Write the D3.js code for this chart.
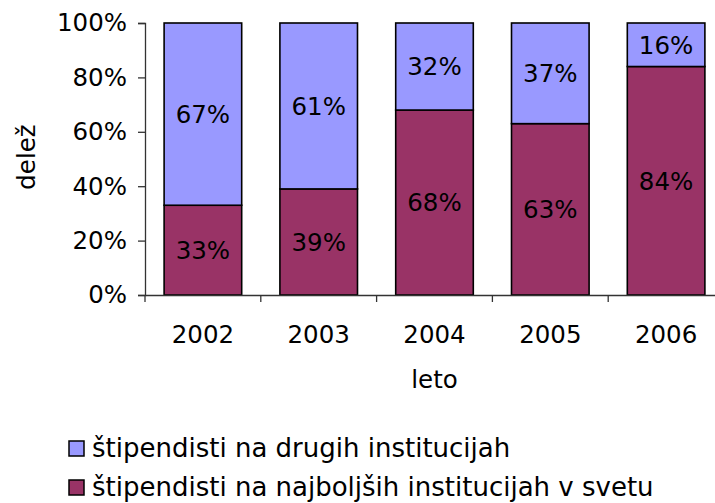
<!DOCTYPE html>
<html>
<head>
<meta charset="utf-8">
<script src="https://cdn.jsdelivr.net/npm/d3@7"></script>
<style>
  body { margin: 0; background: #fff; }
  text { font-family: "DejaVu Sans", Verdana, sans-serif; fill: #000; }
</style>
</head>
<body>
<svg id="chart" width="715" height="503"></svg>
<script>
var years = ["2002", "2003", "2004", "2005", "2006"];
var najboljse = [33, 39, 68, 63, 84];   // štipendisti na najboljših institucijah v svetu
var druge = [67, 61, 32, 37, 16];       // štipendisti na drugih institucijah
var yTicks = [0, 20, 40, 60, 80, 100];

var svg = d3.select("#chart"),
    margin = {top: 23, left: 145},
    width = 579,
    height = 272,
    fs = "24.5px";

var x = d3.scaleBand().domain(years).range([0, width]).paddingInner(0.33).paddingOuter(0.165),
    y = d3.scaleLinear().domain([0, 100]).range([height, 0]);

var g = svg.append("g")
    .attr("transform", "translate(" + margin.left + "," + margin.top + ")");

var rows = years.map(function(yr, i) {
  return {year: yr, bottom: najboljse[i], top: druge[i]};
});

// spodnji del (najboljše institucije)
g.selectAll(".bar-bottom")
  .data(rows)
  .enter().append("rect")
    .attr("class", "bar-bottom")
    .attr("x", function(d) { return x(d.year); })
    .attr("y", function(d) { return y(d.bottom); })
    .attr("width", x.bandwidth())
    .attr("height", function(d) { return height - y(d.bottom); })
    .attr("fill", "#993366")
    .attr("stroke", "#000")
    .attr("stroke-width", 1.6);

// zgornji del (druge institucije)
g.selectAll(".bar-top")
  .data(rows)
  .enter().append("rect")
    .attr("class", "bar-top")
    .attr("x", function(d) { return x(d.year); })
    .attr("y", function(d) { return y(d.bottom + d.top); })
    .attr("width", x.bandwidth())
    .attr("height", function(d) { return y(d.bottom) - y(d.bottom + d.top); })
    .attr("fill", "#9999FF")
    .attr("stroke", "#000")
    .attr("stroke-width", 1.6);

g.selectAll(".lbl-bottom")
  .data(rows)
  .enter().append("text")
    .attr("x", function(d) { return x(d.year) + x.bandwidth() / 2; })
    .attr("y", function(d) { return y(d.bottom / 2); })
    .attr("dy", "0.36em")
    .attr("text-anchor", "middle")
    .style("font-size", fs)
    .text(function(d) { return d.bottom + "%"; });

g.selectAll(".lbl-top")
  .data(rows)
  .enter().append("text")
    .attr("x", function(d) { return x(d.year) + x.bandwidth() / 2; })
    .attr("y", function(d) { return y(d.bottom + d.top / 2); })
    .attr("dy", "0.36em")
    .attr("text-anchor", "middle")
    .style("font-size", fs)
    .text(function(d) { return d.top + "%"; });

// osi
var xAxis = g.append("g")
    .attr("transform", "translate(0," + height + ")")
    .call(d3.axisBottom(x).tickSize(0).tickPadding(31));
xAxis.select(".domain").attr("stroke", "#333").attr("stroke-width", 1.3);
xAxis.selectAll("text").style("font-size", fs).attr("font-family", null);

// ločila med kategorijami
g.selectAll(".sep")
  .data(d3.range(years.length + 1))
  .enter().append("line")
    .attr("x1", function(i) { return i * x.step(); })
    .attr("x2", function(i) { return i * x.step(); })
    .attr("y1", height)
    .attr("y2", height + 7)
    .attr("stroke", "#333")
    .attr("stroke-width", 1.3);

var yAxis = g.append("g")
    .call(d3.axisLeft(y).tickValues(yTicks).tickSize(7).tickPadding(11)
      .tickFormat(function(d) { return d + "%"; }));
yAxis.select(".domain").attr("stroke", "#333").attr("stroke-width", 1.3);
yAxis.selectAll(".tick line").attr("stroke", "#333").attr("stroke-width", 1.3);
yAxis.selectAll("text").style("font-size", fs).attr("font-family", null);

svg.append("text")
    .attr("transform", "translate(35,157) rotate(-90)")
    .attr("text-anchor", "middle")
    .style("font-size", fs)
    .text("delež");

svg.append("text")
    .attr("x", margin.left + width / 2)
    .attr("y", 388)
    .attr("text-anchor", "middle")
    .style("font-size", fs)
    .text("leto");

// legenda
var legend = [
  {name: "štipendisti na drugih institucijah", color: "#9999FF"},
  {name: "štipendisti na najboljših institucijah v svetu", color: "#993366"}
];
var lg = svg.append("g").attr("transform", "translate(69,441)");
var item = lg.selectAll(".item")
  .data(legend)
  .enter().append("g")
    .attr("transform", function(d, i) { return "translate(0," + (i * 39) + ")"; });
item.append("rect")
    .attr("width", 15).attr("height", 15)
    .attr("fill", function(d) { return d.color; })
    .attr("stroke", "#000")
    .attr("stroke-width", 1.5);
item.append("text")
    .attr("x", 23)
    .attr("y", 16)
    .style("font-size", "26px")
    .text(function(d) { return d.name; });
</script>
</body>
</html>
